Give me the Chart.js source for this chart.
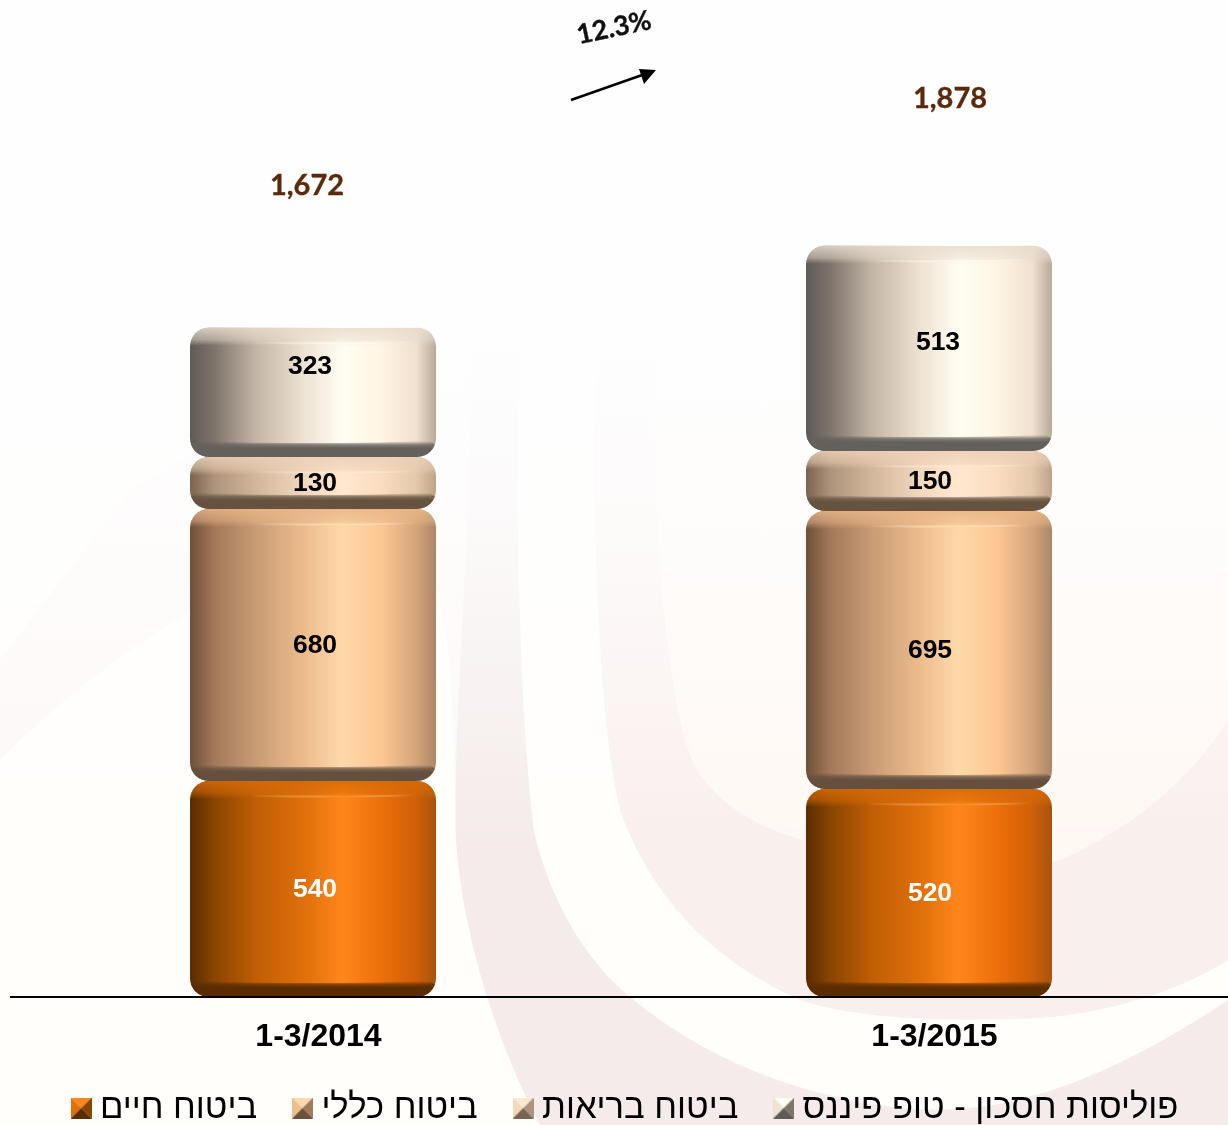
<!DOCTYPE html>
<html lang="he"><head><meta charset="utf-8">
<script src="https://cdn.jsdelivr.net/npm/chart.js@4/dist/chart.umd.min.js"></script>
<style>
html,body{margin:0;padding:0;width:1228px;height:1125px;overflow:hidden;background:#fffefb}
#bg{position:absolute;left:0;top:0}
#c{position:absolute;left:0;top:0}
</style></head><body>
<svg id="bg" width="1228" height="1125" viewBox="0 0 1228 1125" xmlns="http://www.w3.org/2000/svg">
<defs><linearGradient id="fade" x1="0" y1="0" x2="0" y2="1">
<stop offset="0" stop-color="#fefefe" stop-opacity="1"/><stop offset="0.295" stop-color="#fefefe" stop-opacity="1"/>
<stop offset="0.46" stop-color="#fefefe" stop-opacity="0.78"/><stop offset="0.62" stop-color="#fefefe" stop-opacity="0.38"/><stop offset="0.76" stop-color="#fefefe" stop-opacity="0"/></linearGradient></defs>
<rect width="1228" height="1125" fill="#fffefb"/>
<path d="M0 660 L130 490 L460 300 L1228 250 L1228 1125 L540 1125 L455 830 C455 700 450 600 420 540 C300 540 140 620 0 760Z" fill="#fdf7f5"/>
<path d="M470 320 C475 500 452 720 456 840 C462 930 495 1040 540 1125 L1228 1125 L1228 320Z" fill="#f4ebea"/>
<path d="M522 320 C512 500 522 740 534 832 C550 900 585 960 630 997 C700 1055 790 1095 900 1108 C1000 1118 1100 1085 1228 1000 L1228 320Z" fill="#fffefb"/>
<path d="M597 320 C590 500 598 720 620 810 C650 895 710 960 800 1000 C860 1020 950 1022 1040 1018 C1120 1012 1190 985 1228 960 L1228 320Z" fill="#f9efed"/>
<path d="M655 320 C650 500 665 720 700 775 C730 815 770 832 820 845 C900 870 1000 880 1060 860 C1130 830 1190 780 1228 720 L1228 320Z" fill="#fff8f3"/>
<rect width="1228" height="1125" fill="url(#fade)"/>
</svg>
<canvas id="c" width="1240" height="1125" style="width:1240px;height:1125px"></canvas>
<script>
const categories = ['1-3/2014', '1-3/2015'];
const seriesNames = ['ביטוח חיים', 'ביטוח כללי', 'ביטוח בריאות', 'פוליסות חסכון - טופ פיננס'];
const lifeValues = [540, 520];
const generalValues = [680, 695];
const healthValues = [130, 150];
const savingsValues = [323, 513];
const totalLabels = ['1,672', '1,878'];
const totalAnchorValues = [2028, 2245];
const totalNudgeX = [-6, 21];
const labelNudgeX = [[2, 1], [2, 1], [2, 1], [-3, 9]];
const labelNudgeY = [[0, 0], [0, 0], [0, 0], [-27, -7]];
const growthLabel = '12.3%';

const palettes = [
  {stops: ['#5a2c00','#8a4500','#c05e05','#e0700c','#ff861a','#ec6f0b','#cf5f08','#a8540c'], top:[214,106,8], topHi:'rgba(255,140,30,.7)', dark:'#5a2c00', text:'#ffffff'},
  {stops: ['#6e5038','#a3795a','#c99c75','#eebd8e','#fdd9aa','#fcc693','#d3a57b','#ab8667'], top:[232,182,136], topHi:'rgba(255,222,165,.8)', dark:'#65503f', text:'#000000'},
  {stops: ['#7a6450','#ae947c','#d2b79c','#f2d8be','#ffe8cf','#fbdcc0','#e3c8ac','#bfa388'], top:[236,208,182], topHi:'rgba(255,233,203,.8)', dark:'#66533f', text:'#000000'},
  {stops: ['#5f5a56','#7f746c','#c4b6a7','#efe3d4','#fffdf2','#fff5e4','#f0e0d0','#b9a998'], top:[232,220,206], topHi:'rgba(255,251,238,.8)', dark:'#64605b', text:'#000000'}
];
const stopAt = [0, 0.1, 0.27, 0.47, 0.62, 0.78, 0.92, 1];
const barShare = 0.3994;

function bodyGradient(ctx, x0, x1, pal){
  const g = ctx.createLinearGradient(x0, 0, x1, 0);
  pal.stops.forEach((c, i) => g.addColorStop(stopAt[i], c));
  return g;
}
function barFill(seriesIndex){
  return (c) => {
    const pal = palettes[seriesIndex], chart = c.chart;
    if (!chart.chartArea || c.dataIndex === undefined) return pal.stops[3];
    const half = chart.chartArea.width / categories.length * barShare / 2;
    const cx = chart.scales.x.getPixelForValue(c.dataIndex);
    return bodyGradient(chart.ctx, cx - half, cx + half, pal);
  };
}

function legendTile(pal){
  const s = 21, cv = document.createElement('canvas'); cv.width = s; cv.height = s;
  const x = cv.getContext('2d');
  const tri = (pts, col) => { x.fillStyle = col; x.beginPath(); pts.forEach((p,i)=> i? x.lineTo(p[0],p[1]) : x.moveTo(p[0],p[1])); x.closePath(); x.fill(); };
  const c = s/2;
  tri([[0,0],[s,0],[c,c]], pal.stops[4]);
  tri([[0,0],[0,s],[c,c]], pal.stops[3]);
  tri([[s,0],[s,s],[c,c]], pal.stops[1]);
  tri([[0,s],[s,s],[c,c]], pal.stops[0]);
  return cv;
}

const cylinderPlugin = {
  id: 'cylinder',
  afterDatasetsDraw(chart){
    const ctx = chart.ctx;
    chart.data.datasets.forEach((ds, di) => {
      const pal = palettes[di];
      chart.getDatasetMeta(di).data.forEach((el) => {
        const x0 = el.x - el.width/2, x1 = el.x + el.width/2, t = el.y, b = el.base, w = el.width, h = b - t;
        const band = 15;
        ctx.save();
        ctx.beginPath(); ctx.roundRect(x0, t, w, h, 19); ctx.clip();
        const [r,g,bl] = pal.top;
        const tg = ctx.createLinearGradient(0, t, 0, t + band + 3);
        tg.addColorStop(0, `rgba(${r},${g},${bl},.85)`);
        tg.addColorStop(.65, `rgba(${r},${g},${bl},.5)`);
        tg.addColorStop(1, `rgba(${r},${g},${bl},0)`);
        ctx.fillStyle = tg;
        ctx.fillRect(x0, t, w, band + 3);
        const hl = ctx.createLinearGradient(x0, 0, x1, 0);
        hl.addColorStop(.25, 'rgba(255,255,255,0)'); hl.addColorStop(.62, pal.topHi); hl.addColorStop(.92, 'rgba(255,255,255,0)');
        ctx.strokeStyle = hl; ctx.lineWidth = 2;
        ctx.beginPath(); ctx.moveTo(x0 + 30, t + band - 1); ctx.quadraticCurveTo(el.x + 20, t + band + 2, x1 - 20, t + band - 1); ctx.stroke();
        const dg = ctx.createLinearGradient(0, b - 16, 0, b - 9);
        dg.addColorStop(0, pal.dark + '00'); dg.addColorStop(.55, pal.dark + 'c8'); dg.addColorStop(1, pal.dark);
        ctx.fillStyle = dg;
        ctx.beginPath();
        ctx.moveTo(x0 + 8, b - 18); ctx.quadraticCurveTo(x0 + 22, b - 14, el.x, b - 14); ctx.quadraticCurveTo(x1 - 22, b - 14, x1 - 8, b - 18);
        ctx.lineTo(x1, b - 12); ctx.lineTo(x1, b); ctx.lineTo(x0, b); ctx.lineTo(x0, b - 12);
        ctx.closePath(); ctx.fill();
        ctx.restore();
      });
    });
  },
  afterDraw(chart){
    const ctx = chart.ctx, y = chart.scales.y, x = chart.scales.x;
    ctx.save();
    ctx.textAlign = 'center'; ctx.textBaseline = 'middle';
    ctx.font = 'bold 26.5px "Liberation Sans"';
    datasetValues.forEach((vals, di) => {
      chart.getDatasetMeta(di).data.forEach((el, i) => {
        ctx.fillStyle = palettes[di].text;
        ctx.fillText(String(vals[i]), el.x + labelNudgeX[di][i], (el.y + el.base)/2 + labelNudgeY[di][i] + 1);
      });
    });
    ctx.font = 'bold 29px Lato'; ctx.fillStyle = '#5b2a0c'; ctx.strokeStyle = '#5b2a0c'; ctx.lineWidth = .35;
    totalLabels.forEach((t, i) => {
      const px = x.getPixelForValue(i) + totalNudgeX[i], py = y.getPixelForValue(totalAnchorValues[i]);
      ctx.fillText(t, px, py); ctx.strokeText(t, px, py);
    });
    ctx.strokeStyle = '#000'; ctx.lineWidth = 2;
    const by = Math.round(y.getPixelForValue(0));
    ctx.beginPath(); ctx.moveTo(10, by); ctx.lineTo(chart.width, by); ctx.stroke();
    ctx.save();
    ctx.translate(614, 28); ctx.rotate(-12 * Math.PI/180);
    ctx.font = 'bold 27px Lato'; ctx.fillStyle = '#111'; ctx.strokeStyle = '#111'; ctx.lineWidth = .35;
    ctx.fillText(growthLabel, 0, 0); ctx.strokeText(growthLabel, 0, 0);
    ctx.restore();
    ctx.strokeStyle = '#000'; ctx.fillStyle = '#000'; ctx.lineWidth = 2.4;
    ctx.beginPath(); ctx.moveTo(571, 100); ctx.lineTo(645, 74); ctx.stroke();
    ctx.beginPath(); ctx.moveTo(656, 70); ctx.lineTo(639, 69); ctx.lineTo(644, 84); ctx.closePath(); ctx.fill();
    ctx.restore();
  },
  afterLayout(chart){
    const l = chart.legend; if (!l) return;
    const pad = l.options.labels.padding, fs = l.options.labels.font.size;
    l.left += 8; l.right += 8;
    l.top = 1108 - pad - fs/2; l.bottom = chart.height;
  }
};

const tiles = palettes.map(legendTile);
const datasetValues = [lifeValues, generalValues, healthValues, savingsValues];
function floating(i){
  return categories.map((_, c) => {
    let start = 0;
    for (let k = 0; k < i; k++) start += datasetValues[k][c];
    return [start, start + datasetValues[i][c]];
  });
}

new Chart(document.getElementById('c').getContext('2d'), {
  type: 'bar',
  data: {
    labels: categories,
    datasets: seriesNames.map((name, i) => ({
      label: name,
      data: floating(i),
      backgroundColor: barFill(i),
      borderWidth: 0,
      borderSkipped: false,
      borderRadius: 19,
      barPercentage: barShare,
      categoryPercentage: 1
    }))
  },
  options: {
    responsive: false,
    devicePixelRatio: 1,
    animation: false,
    layout: {padding: {left: 5, right: 3, top: 17, bottom: 0}},
    scales: {
      x: {
        stacked: true,
        grid: {display: false},
        border: {display: false},
        ticks: {color: '#000', font: {family: '"Liberation Sans"', size: 32, weight: 'bold'}, labelOffset: 5.5, padding: 13, maxRotation: 0},
        afterFit(s){ s.height = 88; }
      },
      y: {display: false, min: 0, max: 2450}
    },
    plugins: {
      tooltip: {enabled: false},
      legend: {
        position: 'bottom',
        maxHeight: 40,
        labels: {
          color: '#000',
          font: {family: '"Liberation Sans"', size: 34.6},
          padding: 44,
          usePointStyle: true,
          pointStyleWidth: 3,
          generateLabels(chart){
            return chart.data.datasets.map((d, i) => ({
              text: d.label, pointStyle: tiles[i], fillStyle: palettes[i].stops[3], strokeStyle: 'transparent',
              lineWidth: 0, datasetIndex: i, fontColor: '#000', hidden: false
            }));
          }
        }
      }
    }
  },
  plugins: [cylinderPlugin]
});
</script>
</body></html>
